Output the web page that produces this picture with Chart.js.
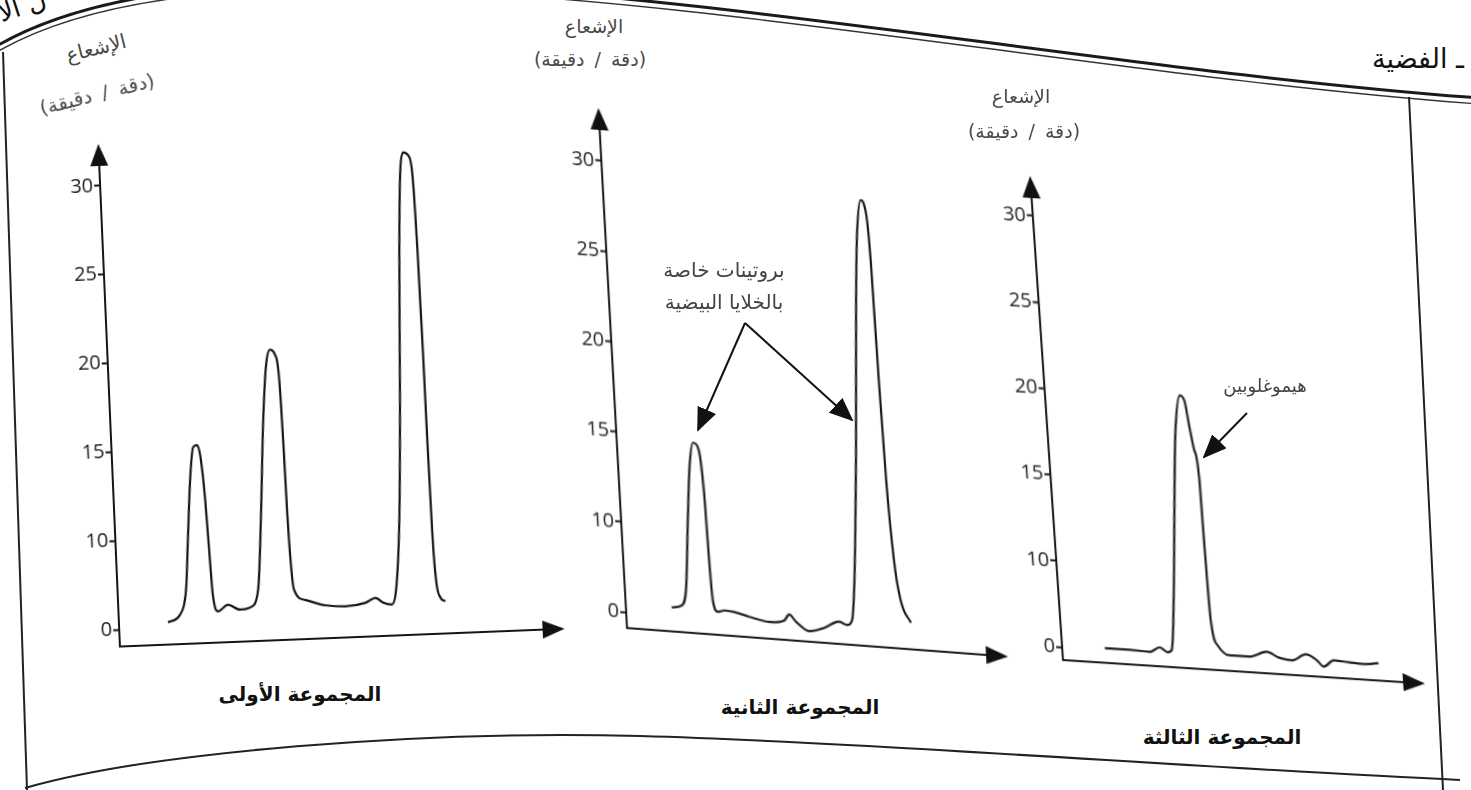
<!DOCTYPE html>
<html lang="ar">
<head>
<meta charset="utf-8">
<script src="https://cdn.jsdelivr.net/npm/chart.js@4.4.1/dist/chart.umd.min.js"></script>
<style>
html,body{margin:0;padding:0;background:#fff;width:1471px;height:790px;overflow:hidden;}
#stage{position:relative;width:1471px;height:790px;overflow:hidden;}
.wrap{position:absolute;}
.wrap canvas{display:block;}
.txt{position:absolute;font-family:"DejaVu Sans",sans-serif;color:#333;white-space:nowrap;direction:rtl;line-height:1;}
#frame{position:absolute;left:0;top:0;}
</style>
</head>
<body>
<div id="stage">
<svg id="frame" width="1471" height="790" xmlns="http://www.w3.org/2000/svg">
  <defs>
    <marker id="ah" markerWidth="24" markerHeight="20" refX="22" refY="10" orient="auto" markerUnits="userSpaceOnUse">
      <path d="M0,0 L24,10 L0,20 z" fill="#111"/>
    </marker>
  </defs>
  <path d="M -10 50 C 250 -110, 950 60, 1480 98" fill="none" stroke="#1a1a1a" stroke-width="3"/>
  <path d="M -10 56 C 250 -104, 950 66, 1480 104" fill="none" stroke="#333" stroke-width="1.4"/>
  <path d="M 3 52 L 27 790" fill="none" stroke="#222" stroke-width="2"/>
  <path d="M 1409 97 L 1443 790" fill="none" stroke="#222" stroke-width="2"/>
  <path d="M 25 788 C 150 752, 420 730, 640 736 S 1200 768, 1460 780" fill="none" stroke="#222" stroke-width="2"/>
  <line x1="745" y1="323" x2="698" y2="430" stroke="#111" stroke-width="2" marker-end="url(#ah)"/>
  <line x1="745" y1="323" x2="852" y2="420" stroke="#111" stroke-width="2" marker-end="url(#ah)"/>
  <line x1="1247" y1="413" x2="1204" y2="457" stroke="#111" stroke-width="2" marker-end="url(#ah)"/>
</svg>
</div>
<script>
// ---- tick values / labels (broken axis: the "0" tick sits where 5 would be) ----
const yTickValues = [0, 10, 15, 20, 25, 30];
const yTickLabels = ['0', '10', '15', '20', '25', '30'];

const groupNames = ['المجموعة الأولى', 'المجموعة الثانية', 'المجموعة الثالثة'];
const yTitleTop = 'الإشعاع';
const yTitleUnit = '(دقة / دقيقة)';
const noteProteins = ['بروتينات خاصة', 'بالخلايا البيضية'];
const noteHemoglobin = 'هيموغلوبين';

// ---- series: x = position along the horizontal axis (0–100), v = radiation (counts/min) ----
const g1X = [11.1,13.9,15.5,16.4,17.5,18.5,19.4,20.1,20.7,21.1,21.5,22.5,24.8,27.5,29.8,31.8,33.1,34.6,35.8,36.8,37.9,38.6,38.9,39.1,39.4,39.9,42.3,46.8,51.3,55.9,58.2,60.1,61.9,63.0,64.4,65.7,67.0,68.0,68.8,70.0,70.7,71.1,71.35,71.5,71.7,72.1,72.9,74.0];
const g1V = [0.6,1.4,4.2,9.8,13.3,15.1,15.2,14.4,12.1,8.6,3.5,1.6,2.3,1.7,1.9,3.9,10.9,16.5,19.6,20.4,20.1,18.7,15.3,11.4,7.1,3.7,2.5,1.8,1.6,1.9,2.4,1.8,1.6,3.3,10.6,17.3,25.7,30.2,31.2,31.0,29.9,25.7,20.1,14.4,9.8,4.2,2.2,1.7];

const g2X = [12.2,14.9,16.2,17.7,19.0,20.2,21.2,22.0,22.5,22.8,23.2,24.3,26.2,28.8,32.7,37.9,41.9,43.3,45.1,48.4,52.4,56.4,58.5,59.9,61.1,63.4,65.6,66.9,68.3,69.3,70.1,70.5,71.0,71.9,73.1,75.5];
const g2V = [0.9,1.2,2.9,10.3,13.4,14.7,14.6,13.7,11.5,6.4,2.0,0.8,1.0,0.9,0.5,0.1,0.4,1.1,0.3,-0.6,-0.1,0.7,0.4,1.0,5.4,14.9,23.2,27.1,28.9,28.5,25.5,18.9,13.4,8.0,3.6,1.2];

const g3X = [11.9,18.9,24.4,27.3,29.4,30.6,32.1,34.2,35.8,37.7,38.9,39.8,40.8,41.6,41.7,41.85,42.1,43.5,46.6,52.1,57.2,60.5,64.1,68.1,71.0,72.8,75.8,79.9,84.0,88.2];
const g3V = [0.2,0.2,0.1,0.7,0.2,0.5,6.3,13.9,18.0,20.1,19.8,18.3,16.9,15.2,12.3,8.8,4.2,1.4,0.3,0.3,1.0,0.4,0.2,1.0,0.4,-0.3,0.5,0.4,0.3,0.5];

// ---- layout (screen geometry of each hand-drawn panel) ----
const panels = [
  {xs: g1X, vs: g1V, cornerX: 120, cornerY: 647, tipX: 562, topY: 148, y5: 630, y30: 185, b: -0.04, c: 0.043},
  {xs: g2X, vs: g2V, cornerX: 627, cornerY: 628, tipX: 1005, topY: 112, y5: 612, y30: 160, b: 0.075, c: 0.055},
  {xs: g3X, vs: g3V, cornerX: 1063, cornerY: 660, tipX: 1422, topY: 180, y5: 647, y30: 215, b: 0.065, c: 0.068}
];

// axis break: values below 10 are drawn on a compressed segment (0 → position 5)
function toAxis(v) { return v >= 10 ? v : 5 + v / 2; }

const arrowPlugin = {
  id: 'axisArrows',
  afterDraw(chart) {
    const {left, top, right, bottom} = chart.chartArea;
    const ctx = chart.ctx;
    ctx.save();
    ctx.fillStyle = '#111';
    ctx.beginPath();
    ctx.moveTo(left, top - 5);
    ctx.lineTo(left - 9, top + 17);
    ctx.lineTo(left + 9, top + 17);
    ctx.closePath();
    ctx.fill();
    ctx.beginPath();
    ctx.moveTo(right + 3, bottom);
    ctx.lineTo(right - 19, bottom - 9);
    ctx.lineTo(right - 19, bottom + 9);
    ctx.closePath();
    ctx.fill();
    ctx.restore();
  }
};

const stage = document.getElementById('stage');
const YW = 52, PT = 12, PR = 6, PB = 14;

panels.forEach((p) => {
  const ppu = (p.y5 - p.y30) / 25;
  const yMin = 5 - (p.cornerY - p.y5) / ppu;
  const yMax = 30 + (p.y30 - p.topY) / ppu;
  const areaH = p.cornerY - p.topY;
  const areaW = p.tipX - p.cornerX;
  const W = YW + areaW + PR;
  const H = PT + areaH + PB;

  const wrap = document.createElement('div');
  wrap.className = 'wrap';
  wrap.style.left = (p.cornerX - YW) + 'px';
  wrap.style.top = (p.topY - PT) + 'px';
  wrap.style.width = W + 'px';
  wrap.style.height = H + 'px';
  wrap.style.transformOrigin = YW + 'px ' + (PT + areaH) + 'px';
  wrap.style.transform = 'matrix(1,' + p.b + ',' + p.c + ',1,0,0)';
  const cv = document.createElement('canvas');
  cv.width = W; cv.height = H;
  cv.style.width = W + 'px'; cv.style.height = H + 'px';
  wrap.appendChild(cv);
  stage.appendChild(wrap);

  new Chart(cv.getContext('2d'), {
    type: 'line',
    data: {
      datasets: [{
        data: p.xs.map((x, i) => ({x: x, y: toAxis(p.vs[i])})),
        borderColor: '#151515',
        borderWidth: 2.2,
        pointRadius: 0,
        fill: false,
        cubicInterpolationMode: 'monotone'
      }]
    },
    options: {
      responsive: false,
      animation: false,
      devicePixelRatio: 1,
      events: [],
      layout: {padding: {left: 0, top: PT, right: PR, bottom: PB}},
      plugins: {legend: {display: false}, tooltip: {enabled: false}, title: {display: false}},
      scales: {
        x: {
          type: 'linear', min: 0, max: 100,
          ticks: {display: false},
          grid: {display: false, drawTicks: false},
          border: {display: true, color: '#151515', width: 2},
          afterFit(s) { s.height = 0; }
        },
        y: {
          type: 'linear', min: yMin, max: yMax,
          afterBuildTicks(s) { s.ticks = yTickValues.map(v => ({value: toAxis(v)})); },
          ticks: {
            callback(val) {
              const i = yTickValues.findIndex(v => Math.abs(toAxis(v) - val) < 1e-6);
              return i >= 0 ? yTickLabels[i] : '';
            },
            font: {family: 'Open Sans', size: 20},
            color: '#222',
            padding: 1
          },
          grid: {display: true, drawOnChartArea: false, drawTicks: true, tickLength: 6, tickColor: '#151515', tickWidth: 2, color: '#151515'},
          border: {display: true, color: '#151515', width: 2},
          afterFit(s) { s.width = YW; }
        }
      }
    },
    plugins: [arrowPlugin]
  });
});

// ---- text (real text, positioned like the scanned page) ----
function addText(str, cx, cy, size, opts) {
  const d = document.createElement('div');
  d.className = 'txt';
  d.textContent = str;
  d.style.fontSize = size + 'px';
  d.style.left = cx + 'px';
  d.style.top = cy + 'px';
  const rot = (opts && opts.rot) || 0;
  d.style.transform = 'translate(-50%,-50%) rotate(' + rot + 'deg)';
  if (opts && opts.bold) d.style.fontWeight = 'bold';
  if (opts && opts.color) d.style.color = opts.color;
  if (opts && opts.ws) d.style.wordSpacing = opts.ws + 'px';
  stage.appendChild(d);
}

// axis titles
addText(yTitleTop, 96, 48, 20, {rot: -14, color: '#4a4a4a'});
addText(yTitleUnit, 97, 94, 20, {rot: -14, color: '#4a4a4a', ws: 4});
addText(yTitleTop, 594, 26, 19, {color: '#4a4a4a'});
addText(yTitleUnit, 590, 59, 19, {color: '#4a4a4a', ws: 4});
addText(yTitleTop, 1021, 96, 19, {color: '#4a4a4a'});
addText(yTitleUnit, 1024, 131, 19, {color: '#4a4a4a', ws: 4});

// group names
addText(groupNames[0], 300, 694, 20, {bold: true, color: '#111'});
addText(groupNames[1], 800, 707, 20, {bold: true, color: '#111'});
addText(groupNames[2], 1222, 737, 20, {bold: true, color: '#111'});

// annotations
addText(noteProteins[0], 724, 270, 20, {color: '#444'});
addText(noteProteins[1], 724, 302, 20, {color: '#444'});
addText(noteHemoglobin, 1265, 386, 18, {color: '#444'});

// page fragments
addText('ـ الفضية', 1418, 58, 27, {color: '#111'});
addText('ل الأ', 22, 6, 26, {rot: -18, color: '#111'});
</script>
</body>
</html>
